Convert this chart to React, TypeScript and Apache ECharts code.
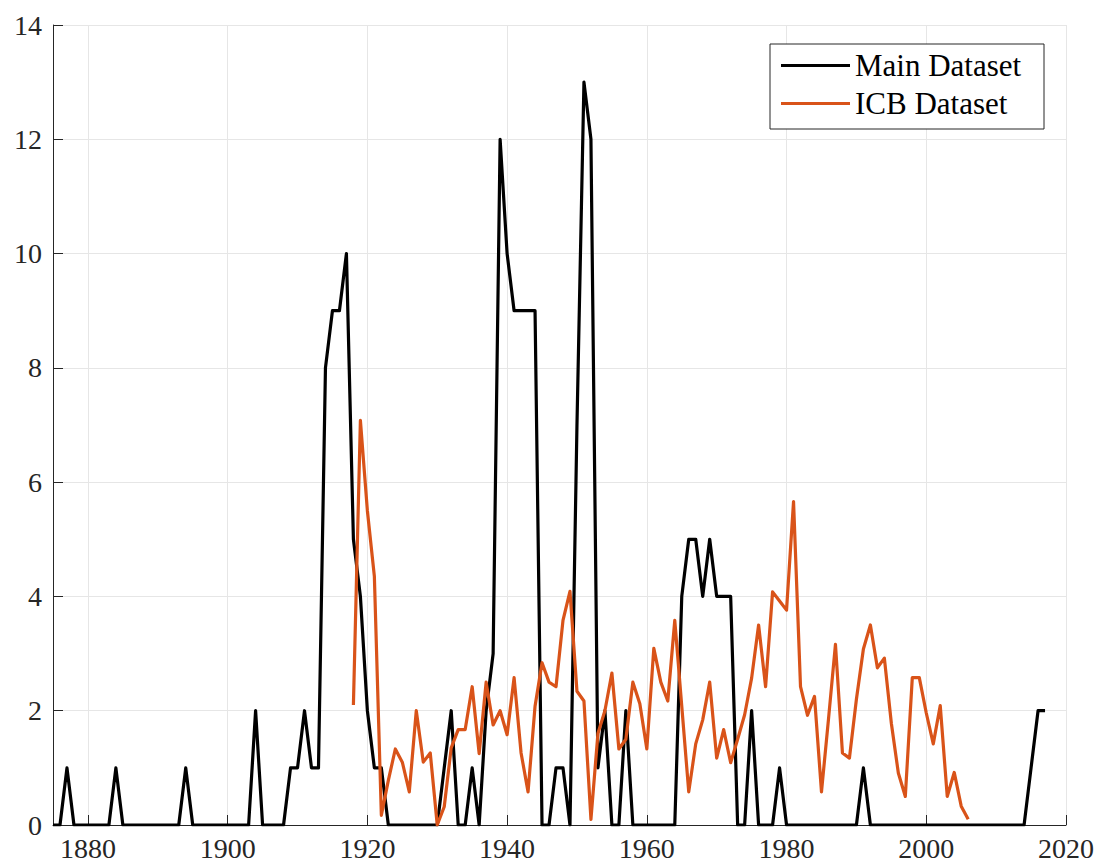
import React, { useEffect, useRef } from "react";
import * as echarts from "echarts";

// Main dataset: yearly counts, first value is year 1875
const mainStartYear = 1875;
const mainCounts = [
  0, 0, 1, 0, 0, 0, 0, 0, 0, 1, // 1875-1884
  0, 0, 0, 0, 0, 0, 0, 0, 0, 1, // 1885-1894
  0, 0, 0, 0, 0, 0, 0, 0, 0, 2, // 1895-1904
  0, 0, 0, 0, 1, 1, 2, 1, 1, 8, // 1905-1914
  9, 9, 10, 5, 4, 2, 1, 1, 0, 0, // 1915-1924
  0, 0, 0, 0, 0, 0, 1, 2, 0, 0, // 1925-1934
  1, 0, 2, 3, 12, 10, 9, 9, 9, 9, // 1935-1944
  0, 0, 1, 1, 0, 7, 13, 12, 1, 2, // 1945-1954
  0, 0, 2, 0, 0, 0, 0, 0, 0, 0, // 1955-1964
  4, 5, 5, 4, 5, 4, 4, 4, 0, 0, // 1965-1974
  2, 0, 0, 0, 1, 0, 0, 0, 0, 0, // 1975-1984
  0, 0, 0, 0, 0, 0, 1, 0, 0, 0, // 1985-1994
  0, 0, 0, 0, 0, 0, 0, 0, 0, 0, // 1995-2004
  0, 0, 0, 0, 0, 0, 0, 0, 0, 0, // 2005-2014
  1, 2, 2, // 2015-2017
];

// ICB dataset: yearly values, first value is year 1918
const icbStartYear = 1918;
const icbValues = [
  2.1, 7.08, 5.5, 4.35, 0.17, 0.78, 1.33, 1.1, 0.58, 2.0, // 1918-1927
  1.1, 1.26, 0.0, 0.32, 1.35, 1.67, 1.67, 2.42, 1.25, 2.5, // 1928-1937
  1.75, 2.0, 1.58, 2.58, 1.26, 0.58, 2.08, 2.84, 2.5, 2.42, // 1938-1947
  3.58, 4.09, 2.34, 2.17, 0.1, 1.6, 2.0, 2.66, 1.33, 1.5, // 1948-1957
  2.5, 2.12, 1.33, 3.09, 2.5, 2.17, 3.58, 2.08, 0.58, 1.42, // 1958-1967
  1.84, 2.5, 1.17, 1.67, 1.09, 1.5, 1.93, 2.57, 3.5, 2.42, // 1968-1977
  4.08, 3.92, 3.76, 5.66, 2.42, 1.92, 2.25, 0.58, 1.85, 3.16, // 1978-1987
  1.26, 1.17, 2.2, 3.08, 3.5, 2.75, 2.92, 1.78, 0.91, 0.5, // 1988-1997
  2.58, 2.58, 1.96, 1.42, 2.09, 0.5, 0.92, 0.33, 0.1, // 1998-2006
];

const seriesNames = ["Main Dataset", "ICB Dataset"];
const xTickValues = [1880, 1900, 1920, 1940, 1960, 1980, 2000, 2020];
const xMin = 1875;
const xMax = 2020;
const yMin = 0;
const yMax = 14;
const yStep = 2;

export default function App() {
  const ref = useRef<HTMLDivElement>(null);

  useEffect(() => {
    const chart = echarts.init(ref.current as HTMLDivElement, null, { renderer: "svg" });
    const mainData = mainCounts.map((v, i) => [mainStartYear + i, v]);
    const icbData = icbValues.map((v, i) => [icbStartYear + i, v]);
    const axisColor = "#262626";
    const gridColor = "#e6e6e6";
    const fontFamily = "'Liberation Serif', 'Times New Roman', serif";

    chart.setOption({
      animation: false,
      backgroundColor: "#ffffff",
      grid: { left: 53, right: 37, top: 25, bottom: 43, containLabel: false },
      xAxis: {
        type: "value",
        min: xMin,
        max: xMax,
        splitNumber: 7,
        axisLine: { show: true, lineStyle: { color: axisColor, width: 1 } },
        axisTick: {
          show: true,
          inside: true,
          length: 10,
          customValues: xTickValues,
          lineStyle: { color: axisColor, width: 1 },
        },
        axisLabel: {
          customValues: xTickValues,
          color: axisColor,
          fontFamily,
          fontSize: 28,
          margin: 9,
          formatter: (v: number) => String(v),
        },
        splitLine: { show: true, lineStyle: { color: gridColor, width: 1 } },
      },
      yAxis: {
        type: "value",
        min: yMin,
        max: yMax,
        interval: yStep,
        axisLine: { show: true, lineStyle: { color: axisColor, width: 1 } },
        axisTick: { show: true, inside: true, length: 10, lineStyle: { color: axisColor, width: 1 } },
        axisLabel: { color: axisColor, fontFamily, fontSize: 28, margin: 11 },
        splitLine: { show: true, lineStyle: { color: gridColor, width: 1 } },
      },
      legend: {
        data: seriesNames,
        orient: "vertical",
        left: 770,
        top: 44,
        icon: "rect",
        itemWidth: 69,
        itemHeight: 3,
        itemGap: 7,
        padding: [6, 10, 10, 11],
        backgroundColor: "#ffffff",
        borderColor: axisColor,
        borderWidth: 1,
        borderRadius: 0,
        textStyle: { fontFamily, fontSize: 31, color: "#000000", lineHeight: 30, width: 179 },
      },
      series: [
        {
          type: "line",
          name: seriesNames[0],
          data: mainData,
          symbol: "none",
          z: 2,
          lineStyle: { color: "#000000", width: 3.2, join: "round" },
          itemStyle: { color: "#000000" },
        },
        {
          type: "line",
          name: seriesNames[1],
          data: icbData,
          symbol: "none",
          z: 3,
          lineStyle: { color: "#D95319", width: 3.2, join: "round" },
          itemStyle: { color: "#D95319" },
        },
      ],
    });

    return () => chart.dispose();
  }, []);

  return (
    <div
      ref={ref}
      style={{ position: "absolute", left: 0, top: 0, width: 1103, height: 868 }}
    />
  );
}
